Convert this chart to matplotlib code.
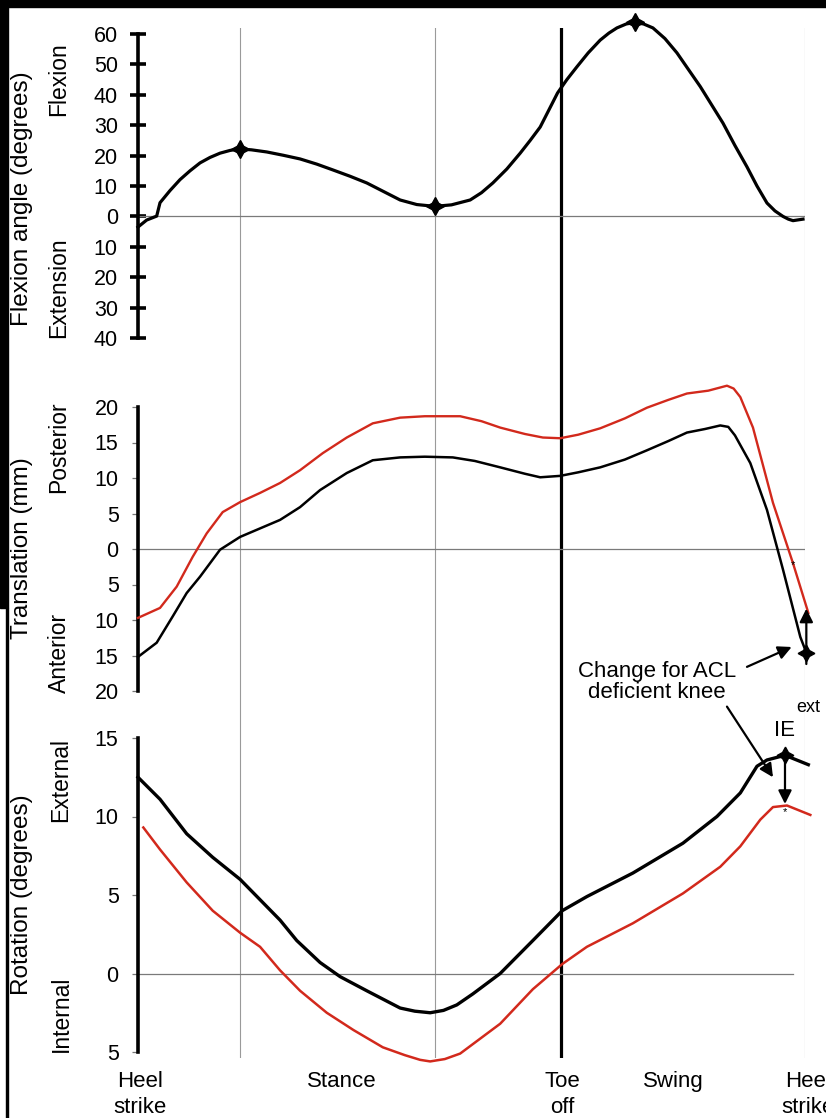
import matplotlib
matplotlib.use("Agg")
import matplotlib.pyplot as plt
from matplotlib.patches import Rectangle

plt.rcParams['font.family'] = ['Liberation Sans', 'DejaVu Sans']

# ---------------- data (gait cycle %, values) ----------------
phase_lines = [15.3, 44.5, 100.0]      # thin reference lines
toe_off = 63.4                          # toe-off (thick line)

flex_x = [0, 1.3, 2.8, 3.3, 4.8, 6.3, 7.8, 9.3, 10.8, 12.3, 13.8, 15.2, 17.0, 19.3,
          21.8, 24.3, 26.8, 29.2, 31.8, 34.3, 36.8, 39.3, 41.8, 44.5, 47.0, 49.8,
          51.5, 53.2, 55.3, 57.3, 58.8, 60.3, 61.6, 62.9, 64.3, 65.8, 67.5, 69.3,
          70.6, 71.8, 73.2, 74.5, 75.8, 77.2, 79.0, 80.8, 82.5, 84.3, 86.0, 87.7,
          89.5, 91.3, 92.8, 94.3, 95.5, 96.7, 97.5, 98.2, 99.7]
flex_y = [-3.5, -1.2, 0.1, 4.5, 8.5, 12.1, 15.0, 17.6, 19.4, 20.8, 21.7, 22.2, 21.9,
          21.2, 20.1, 18.9, 17.2, 15.3, 13.2, 11.0, 8.2, 5.4, 3.9, 3.3, 3.8, 5.4,
          7.8, 11.0, 15.6, 20.8, 25.0, 29.4, 35.0, 40.6, 45.0, 49.2, 53.8, 58.0,
          60.3, 62.0, 63.3, 63.8, 63.3, 62.0, 58.5, 53.8, 48.4, 42.7, 36.7, 30.7,
          23.3, 16.3, 10.0, 4.4, 1.8, 0.0, -0.9, -1.4, -0.9]
flex_marks_x = [15.3, 44.5, 74.5]
flex_marks_y = [22.2, 3.3, 63.8]

trans_black_x = [0, 2.8, 5.2, 7.3, 9.3, 12.3, 15.3, 18.3, 21.3, 24.3, 27.3, 31.3,
                 35.2, 39.3, 43.0, 47.2, 50.5, 54.3, 58.0, 60.3, 63.3, 66.0, 69.3,
                 73.0, 76.3, 79.5, 82.3, 85.0, 87.3, 88.5, 89.5, 91.8, 94.3, 96.7,
                 99.3, 100.2]
trans_black_y = [-15.2, -13.2, -9.5, -6.2, -3.9, -0.1, 1.7, 2.9, 4.1, 5.9, 8.3, 10.7,
                 12.5, 12.9, 13.0, 12.9, 12.4, 11.5, 10.6, 10.1, 10.3, 10.8, 11.5,
                 12.6, 13.9, 15.2, 16.4, 16.9, 17.4, 17.2, 16.0, 12.1, 5.5, -2.9,
                 -12.4, -14.6]
trans_red_x = [0, 3.3, 5.8, 8.2, 10.3, 12.7, 15.3, 18.3, 21.3, 24.3, 27.7, 31.3,
               35.2, 39.3, 43.0, 48.3, 51.5, 54.3, 58.0, 60.7, 63.3, 66.0, 69.3,
               73.0, 76.3, 79.5, 82.3, 85.5, 88.3, 89.3, 90.3, 92.2, 95.2, 98.2,
               100.5]
trans_red_y = [-9.7, -8.3, -5.3, -1.1, 2.2, 5.2, 6.6, 7.9, 9.3, 11.1, 13.5, 15.7,
               17.7, 18.5, 18.7, 18.7, 18.0, 17.1, 16.2, 15.7, 15.6, 16.1, 17.0,
               18.4, 19.9, 21.0, 21.9, 22.3, 23.0, 22.6, 21.4, 17.1, 6.5, -2.0,
               -9.0]

rot_black_x = [0, 3.3, 7.3, 11.2, 15.3, 18.3, 21.3, 23.8, 27.3, 30.3, 34.3, 39.3,
               41.5, 43.8, 45.8, 47.8, 50.2, 54.3, 59.2, 63.6, 67.3, 74.2, 81.7,
               86.8, 90.3, 92.8, 94.3, 97.0, 100.5]
rot_black_y = [12.5, 11.1, 8.9, 7.4, 6.0, 4.7, 3.4, 2.1, 0.7, -0.2, -1.1, -2.2,
               -2.4, -2.5, -2.35, -2.0, -1.3, 0.0, 2.1, 4.0, 4.9, 6.4, 8.3,
               10.0, 11.5, 13.2, 13.6, 13.9, 13.3]
rot_red_x = [0.8, 3.3, 7.3, 11.2, 15.3, 18.3, 21.3, 24.3, 28.3, 32.3, 36.7, 40.0,
             42.3, 43.8, 46.0, 48.3, 54.3, 59.2, 63.6, 67.3, 74.2, 81.7, 87.3,
             90.3, 93.3, 95.2, 97.3, 100.8]
rot_red_y = [9.3, 7.9, 5.8, 4.0, 2.6, 1.7, 0.2, -1.1, -2.5, -3.6, -4.7, -5.2,
             -5.5, -5.6, -5.45, -5.1, -3.2, -1.0, 0.6, 1.7, 3.2, 5.1, 6.8,
             8.1, 9.8, 10.6, 10.7, 10.1]

flex_ticks = [-40, -30, -20, -10, 0, 10, 20, 30, 40, 50, 60]
trans_ticks = [-20, -15, -10, -5, 0, 5, 10, 15, 20]
rot_ticks = [-5, 0, 5, 10, 15]

phase_labels = ["Heel\nstrike", "Stance", "Toe\noff", "Swing", "Heel\nstrike"]
phase_label_x = [0.3, 30.6, 63.6, 80.2, 100.4]

RED = '#d2291c'
W, H = 826, 1118

fig = plt.figure(figsize=(W / 100, H / 100), dpi=100)


def fx(px):
    return px / W


def fy(py):
    return 1 - py / H


x0, x1 = 138, 805
# overlay for phase lines spanning all panels
ov = fig.add_axes([fx(x0), fy(1058), fx(x1 - x0), (1058 - 28) / H], zorder=0)
ov.set_xlim(0, 100)
ov.set_ylim(0, 1)
ov.axis('off')
for p in phase_lines:
    ov.axvline(p, color='#9a9a9a', lw=0.8)
ov.axvline(toe_off, color='black', lw=2.3)


def make_ax(ytop, ybot, ylo, yhi):
    ax = fig.add_axes([fx(x0), fy(ybot), fx(x1 - x0), (ybot - ytop) / H], zorder=1)
    ax.set_facecolor('none')
    ax.set_xlim(0, 100)
    ax.set_ylim(ylo, yhi)
    for s in ['top', 'right', 'bottom']:
        ax.spines[s].set_visible(False)
    ax.spines['left'].set_linewidth(2.6)
    ax.set_xticks([])
    return ax


def abs_labels(ticks):
    return [str(abs(t)) for t in ticks]


STAR = dict(linestyle='none', marker=(4, 1, 0), color='black', zorder=5, clip_on=False)

# ---- top panel: flexion ----
ax1 = make_ax(34, 338, -40, 60)
ax1.axhline(0, color='#7a7a7a', lw=0.9)
ax1.plot(flex_x, flex_y, color='black', lw=2.3, clip_on=False, zorder=3,
         solid_joinstyle='round')
ax1.plot(flex_marks_x, flex_marks_y, markersize=13, **STAR)
ax1.set_yticks(flex_ticks)
ax1.set_yticklabels(abs_labels(flex_ticks))
ax1.tick_params(axis='y', direction='inout', length=11, width=2.6, labelsize=15.5,
                pad=9.0)

# ---- middle panel: translation ----
ax2 = make_ax(407, 691, -20, 20)
ax2.axhline(0, color='#7a7a7a', lw=0.9)
ax2.plot(trans_red_x, trans_red_y, color=RED, lw=1.7, clip_on=False, zorder=3,
         solid_joinstyle='round')
ax2.plot(trans_black_x, trans_black_y, color='black', lw=1.8, clip_on=False, zorder=3,
         solid_joinstyle='round')
ax2.set_yticks(trans_ticks)
ax2.set_yticklabels(abs_labels(trans_ticks))
ax2.tick_params(axis='y', direction='out', length=4, width=0.9, color='#777',
                labelsize=15.5, pad=10.0)
ax2.plot([trans_black_x[-1]], [trans_black_y[-1]], markersize=12, **STAR)
ax2.annotate('', xy=(trans_black_x[-1], -8.4), xytext=(trans_black_x[-1], -16.2),
             arrowprops=dict(arrowstyle='-|>', color='black', lw=1.6, mutation_scale=20,
                             shrinkA=0, shrinkB=0), annotation_clip=False)
ax2.annotate('', xy=(98.0, -13.8), xytext=(91.3, -16.6),
             arrowprops=dict(arrowstyle='-|>', color='black', lw=1.6, mutation_scale=20,
                             shrinkA=0, shrinkB=0), annotation_clip=False)
ax2.text(98.2, -2.2, '*', fontsize=8, ha='center', va='center', zorder=6)

# ---- bottom panel: rotation ----
ax3 = make_ax(738, 1052, -5, 15)
ax3.axhline(0, color='#7a7a7a', lw=0.9, xmax=0.982)
ax3.plot(rot_red_x, rot_red_y, color=RED, lw=1.8, clip_on=False, zorder=3,
         solid_joinstyle='round')
ax3.plot(rot_black_x, rot_black_y, color='black', lw=2.4, clip_on=False, zorder=3,
         solid_joinstyle='round')
ax3.set_yticks(rot_ticks)
ax3.set_yticklabels(abs_labels(rot_ticks))
ax3.tick_params(axis='y', direction='out', length=4, width=0.9, color='#777',
                labelsize=15.5, pad=10.0)
ax3.plot([97.0], [13.9], markersize=12, **STAR)
ax3.annotate('', xy=(97.0, 10.8), xytext=(97.0, 13.6),
             arrowprops=dict(arrowstyle='-|>', color='black', lw=1.6, mutation_scale=20,
                             shrinkA=0, shrinkB=0), annotation_clip=False)
ax3.annotate('', xy=(95.2, 12.5), xytext=(88.3, 17.0),
             arrowprops=dict(arrowstyle='-|>', color='black', lw=1.6, mutation_scale=20,
                             shrinkA=0, shrinkB=0), annotation_clip=False)
ax3.text(97.0, 10.3, '*', fontsize=8, ha='center', va='center', zorder=6)

# phase labels under bottom panel
for lab, px in zip(phase_labels, phase_label_x):
    ax3.text(px, -6.2, lab, ha='center', va='top', fontsize=16, linespacing=1.3,
             clip_on=False)

# ---- axis titles ----
fig.text(fx(22), fy(199), 'Flexion angle (degrees)', rotation=90, ha='center',
         va='center', fontsize=17.5)
fig.text(fx(59), fy(79), 'Flexion', rotation=90, ha='center', va='center', fontsize=16.5)
fig.text(fx(59), fy(288), 'Extension', rotation=90, ha='center', va='center', fontsize=16.5)
fig.text(fx(22), fy(548), 'Translation (mm)', rotation=90, ha='center', va='center',
         fontsize=17.5)
fig.text(fx(59), fy(447), 'Posterior', rotation=90, ha='center', va='center', fontsize=16.5)
fig.text(fx(59), fy(653), 'Anterior', rotation=90, ha='center', va='center', fontsize=16.5)
fig.text(fx(22), fy(895), 'Rotation (degrees)', rotation=90, ha='center', va='center',
         fontsize=17.5)
fig.text(fx(61), fy(780), 'External', rotation=90, ha='center', va='center', fontsize=16.5)
fig.text(fx(61), fy(1014), 'Internal', rotation=90, ha='center', va='center', fontsize=16.5)

# ---- annotation text ----
fig.text(fx(657), fy(682), 'Change for ACL\ndeficient knee', ha='center', va='center',
         fontsize=16, linespacing=1.0)
fig.text(fx(785), fy(730), 'IE', ha='center', va='center', fontsize=16)
fig.text(fx(808), fy(707), 'ext', ha='center', va='center', fontsize=13)

# ---- screenshot border remnants ----
fig.add_artist(Rectangle((0, fy(7)), 1, 7 / H, transform=fig.transFigure,
                         color='black', zorder=10))
fig.add_artist(Rectangle((0, fy(608)), fx(8), 608 / H, transform=fig.transFigure,
                         color='black', zorder=10))
fig.add_artist(Rectangle((fx(6), 0), fx(2), fy(608), transform=fig.transFigure,
                         color='black', zorder=10))

fig.savefig('out.png', dpi=100)
